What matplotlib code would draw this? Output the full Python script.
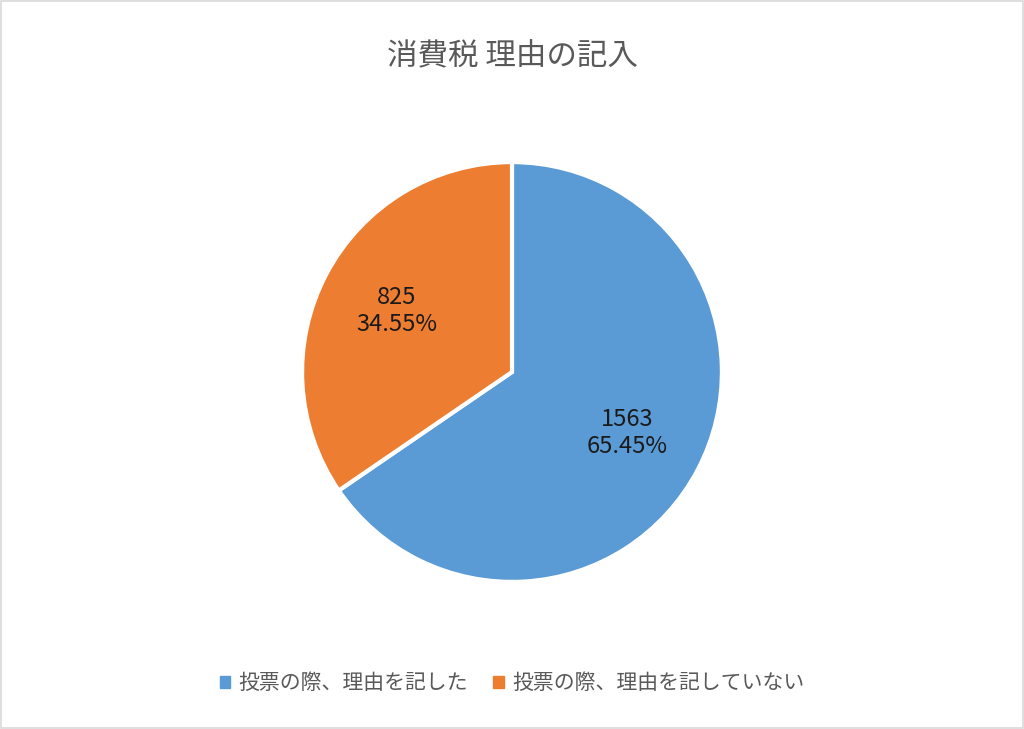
import matplotlib.pyplot as plt
from matplotlib.patches import Rectangle

plt.rcParams['font.family'] = ['Noto Sans CJK JP', 'DejaVu Sans']

# data
categories = ["投票の際、理由を記した", "投票の際、理由を記していない"]
counts = [1563, 825]
colors = ["#5B9BD5", "#ED7D31"]
title = "消費税 理由の記入"

total = sum(counts)

fig = plt.figure(figsize=(10.24, 7.29), dpi=100)
fig.patches.append(Rectangle((0.001, 0.001), 0.998, 0.998, transform=fig.transFigure,
                             fill=False, edgecolor="#D9D9D9", linewidth=1.2))

ax = fig.add_axes([(512 - 212) / 1024, (729 - 372 - 212) / 729, 424 / 1024, 424 / 729])


def fmt(pct):
    n = int(round(pct * total / 100))
    return f"{n}\n{pct:.2f}%"


wedges, texts = ax.pie(counts, colors=colors, startangle=90, counterclock=False,
                       wedgeprops=dict(edgecolor="white", linewidth=3))[:2]
for w, c in zip(wedges, counts):
    import numpy as np
    ang = np.deg2rad((w.theta1 + w.theta2) / 2)
    r = 0.62
    ax.text(r * np.cos(ang), r * np.sin(ang), f"{c}\n{c / total * 100:.2f}%",
            ha="center", va="center", fontsize=17, color="#1a1a1a", linespacing=1.2)
ax.set_xlim(-1.01, 1.01)
ax.set_ylim(-1.01, 1.01)
ax.set_aspect("equal")
ax.axis("off")

fig.text(0.5, 1 - 57 / 729, title, ha="center", va="center", fontsize=22, color="#595959")

handles = [Rectangle((0, 0), 1, 1, color=c) for c in colors]
fig.legend(handles, categories, loc="center", bbox_to_anchor=(0.5, 1 - 683 / 729),
           ncol=2, frameon=False, fontsize=15, handlelength=0.5, handleheight=0.5,
           handletextpad=0.4, columnspacing=1.2, labelcolor="#595959")

fig.savefig("out.png", dpi=100)
